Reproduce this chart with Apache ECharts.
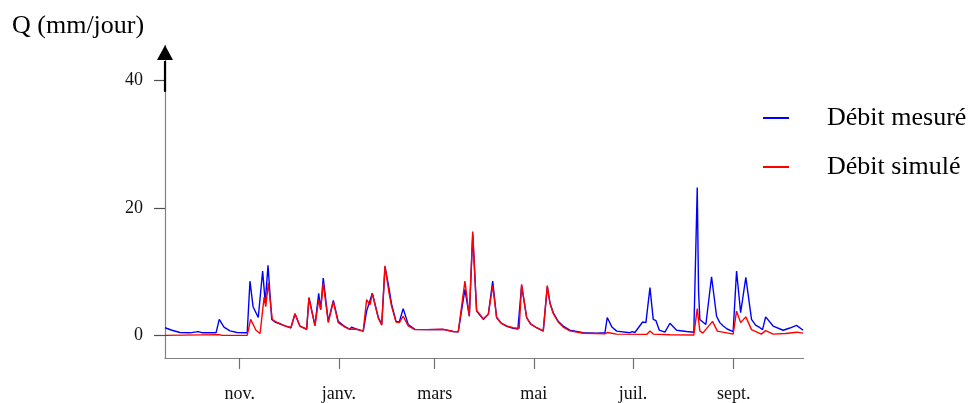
<!DOCTYPE html>
<html>
<head>
<meta charset="utf-8">
<script src="https://cdn.jsdelivr.net/npm/echarts@6/dist/echarts.min.js"></script>
<style>
html,body{margin:0;padding:0;background:#fff;}
#c{width:974px;height:403px;}
</style>
</head>
<body>
<div id="c"></div>
<script>
// x = day since 16 September, y = Q (mm/jour)
const tickDays = [46, 107, 166, 227, 288, 350];
const tickLabels = ['nov.', 'janv.', 'mars', 'mai', 'juil.', 'sept.'];
const yTicks = [0, 20, 40];

const debitMesure = [
  [0,1.2],[4.3,0.8],[9.2,0.45],[15.4,0.4],[20.3,0.58],[22.8,0.42],[31.4,0.4],[33.4,2.5],[36.3,1.3],[40,0.7],
  [44.3,0.45],[50.6,0.4],[52.3,8.5],[54.2,4.5],[57.4,2.8],[60.1,10.1],[61.7,5.1],[63.4,11.0],[65.7,2.5],[67.7,2.1],
  [73.8,1.5],[77.5,1.2],[80,3.4],[83,1.46],[87.2,0.95],[88.6,5.9],[92.3,1.56],[94.6,6.6],[95.8,4.1],[97.4,9.0],
  [100.5,2.2],[103.6,5.5],[106.6,2.2],[110.8,1.36],[113.8,0.95],[114.8,1.3],[117.5,1.0],[122,0.67],[124.1,3.8],[127.6,6.6],
  [131.3,2.8],[133.4,1.7],[135.4,10.8],[137.8,7.5],[139.5,4.85],[142.2,2.2],[144.2,2.1],[146.6,4.2],[149.7,1.7],[153.8,0.94],
  [161,0.9],[171.3,0.94],[177.4,0.6],[180.5,0.55],[184.6,7.2],[187.3,3.0],[189.4,15.8],[191.8,3.8],[195.9,2.5],[199,3.3],
  [201.7,8.5],[204.1,2.8],[207,1.9],[210.3,1.4],[214.3,1.1],[217.2,1.0],[219.5,7.8],[222.6,2.8],[225,1.8],[228.7,1.2],
  [232.8,0.67],[235.3,7.6],[237,5.0],[239,3.55],[242,2.2],[245.1,1.46],[249.2,0.83],[257.4,0.42],[265.7,0.35],[270.8,0.4],
  [272.2,2.8],[275.1,1.3],[278,0.67],[286.2,0.42],[287.6,0.6],[289.2,0.45],[294,2.1],[296,2.0],[298.5,7.5],[300.5,2.5],
  [302.2,2.3],[304.2,0.83],[307.7,0.5],[310.8,1.9],[314.9,0.8],[321.1,0.6],[325.5,0.5],[327.6,23.2],[328.4,7.0],[329.2,2.5],
  [332.9,1.7],[336.4,9.2],[339.5,3.0],[341.5,2.0],[343.6,1.46],[346,1.0],[349.7,0.6],[351.8,10.1],[354.3,3.55],[357.5,9.1],
  [361,2.5],[363.5,1.6],[366.2,1.2],[367.8,0.9],[369.7,2.9],[374.3,1.46],[380.5,0.8],[384.6,1.15],[388.7,1.56],[392.8,0.8]
];

const debitSimule = [
  [0,0],[33.4,0.12],[35,0],[50.6,0],[52.7,2.5],[56,0.8],[58.5,0.3],[61,6.0],[62,4.5],[63.6,8.2],
  [66,2.5],[67.7,2.2],[73.8,1.5],[77.5,1.2],[80,3.4],[83,1.46],[87.2,1.0],[88.6,5.9],[92.3,1.5],[94.6,5.6],
  [95.8,4.0],[97.4,8.2],[100.5,2.0],[103.6,5.3],[106.6,2.0],[110.8,1.3],[113.8,0.95],[114.8,1.2],[117.5,1.0],[122,0.67],
  [124.1,5.6],[126.2,4.8],[127.6,6.6],[131.3,2.7],[133.4,1.6],[135.4,10.9],[137.8,6.8],[139.5,4.5],[142.2,2.1],[144.2,2.0],
  [146.6,3.0],[149.7,1.5],[153.8,0.9],[161,0.9],[171.3,0.95],[177.4,0.6],[180.5,0.55],[184.6,8.5],[187.3,3.0],[189.4,16.3],
  [191.8,3.9],[195.9,2.6],[199,3.3],[201.7,7.8],[204.1,2.8],[207,1.9],[210.3,1.5],[214.3,1.2],[218,1.1],[219.5,8.0],
  [222.6,2.8],[225,1.8],[228.7,1.2],[232.8,0.7],[235.3,7.8],[237,5.0],[239,3.4],[242,2.1],[245.1,1.3],[249.2,0.7],
  [257.4,0.33],[265.7,0.3],[270.8,0.25],[272.2,0.45],[278,0.2],[296.5,0.15],[298.5,0.67],[300.5,0.2],[310.8,0.1],[325.5,0.05],
  [327.6,4.2],[329.2,0.7],[331,0.35],[337,2.2],[340,0.67],[349.7,0.2],[351.8,3.8],[354.3,2.0],[357.5,2.9],[361,0.9],
  [367,0.2],[369.7,0.75],[374.3,0.2],[382,0.3],[388.7,0.5],[392.8,0.35]
];

const FONT = 'Liberation Serif';

const chart = echarts.init(document.getElementById('c'), null, {renderer: 'canvas'});
chart.setOption({
  animation: false,
  backgroundColor: '#fff',
  title: {
    text: 'Q (mm/jour)', left: 7, top: 8,
    textStyle: {fontFamily: FONT, fontSize: 26, fontWeight: 'normal', color: '#000'}
  },
  legend: {
    orient: 'vertical', left: 758, top: 98,
    icon: 'rect', itemWidth: 26, itemHeight: 2, itemGap: 19,
    data: ['Débit mesuré', 'Débit simulé'],
    textStyle: {fontFamily: FONT, fontSize: 26, lineHeight: 30, color: '#000', padding: [0, 0, 0, 33]}
  },
  grid: {left: 165, right: 170.5, top: 45.3, bottom: 44.3, containLabel: false},
  xAxis: {
    type: 'value', min: 0, max: 393,
    splitLine: {show: false},
    axisLine: {show: true, onZero: false, lineStyle: {color: '#808080', width: 1.2}},
    axisTick: {show: true, customValues: tickDays, length: 11, lineStyle: {color: '#707070', width: 1.2}},
    axisLabel: {
      customValues: tickDays, margin: 27,
      fontFamily: FONT, fontSize: 18, color: '#111',
      formatter: v => tickLabels[tickDays.indexOf(v)]
    }
  },
  yAxis: {
    type: 'value', min: -3.55, max: 45.5,
    splitLine: {show: false},
    axisLine: {show: true, onZero: false, lineStyle: {color: '#808080', width: 1.2}},
    axisTick: {show: true, customValues: yTicks, length: 11, lineStyle: {color: '#505050', width: 1.2}},
    axisLabel: {customValues: yTicks, margin: 22, fontFamily: FONT, fontSize: 18, color: '#111'}
  },
  series: [
    {name: 'Débit mesuré', type: 'line', data: debitMesure, showSymbol: false, symbol: 'none',
     color: '#0000ff', lineStyle: {color: '#0000ff', width: 1.4}, z: 2},
    {name: 'Débit simulé', type: 'line', data: debitSimule, showSymbol: false, symbol: 'none',
     color: '#ff0000', lineStyle: {color: '#ff0000', width: 1.4}, z: 3}
  ]
});

// black arrow on top of the y axis
const pBase = chart.convertToPixel({gridIndex: 0}, [0, 38.2]);
const pHead = chart.convertToPixel({gridIndex: 0}, [0, 43.2]);
const pTip = chart.convertToPixel({gridIndex: 0}, [0, 45.5]);
chart.setOption({
  graphic: [
    {type: 'line', shape: {x1: pBase[0], y1: pBase[1], x2: pHead[0], y2: pHead[1] + 1}, style: {stroke: '#000', lineWidth: 2.2}, z: 10},
    {type: 'polygon', shape: {points: [[pTip[0], pTip[1]], [pHead[0] - 8, pHead[1]], [pHead[0] + 8, pHead[1]]]}, style: {fill: '#000'}, z: 10}
  ]
});
</script>
</body>
</html>
